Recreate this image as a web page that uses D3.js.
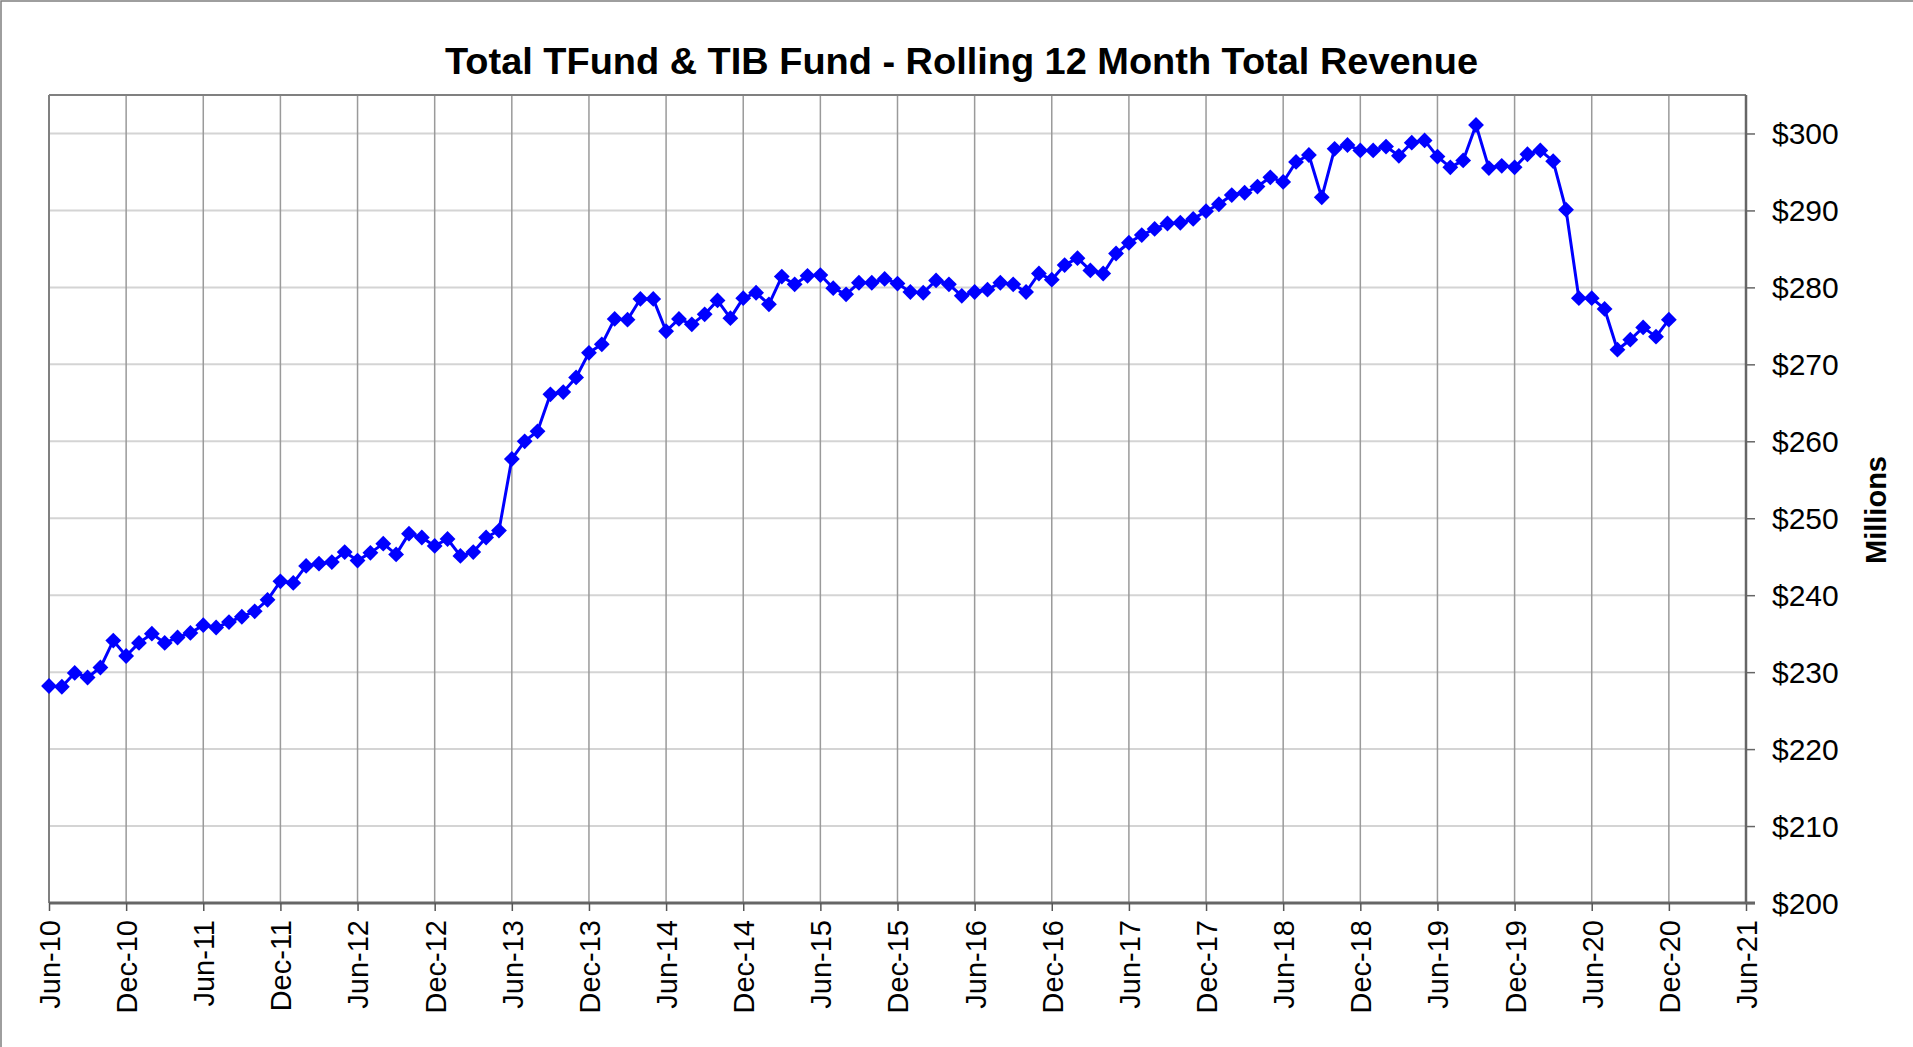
<!DOCTYPE html>
<html>
<head>
<meta charset="utf-8">
<script src="https://cdn.jsdelivr.net/npm/d3@7"></script>
<style>
  html, body { margin: 0; padding: 0; background: #fff; }
  svg { display: block; }
  text { font-family: "Liberation Sans", Arial, sans-serif; fill: #000; }
</style>
</head>
<body>
<svg id="chart" width="1913" height="1047"></svg>
<script>
// ---- Data ----
const chartTitle = "Total TFund & TIB Fund - Rolling 12 Month Total Revenue";
const yAxisTitle = "Millions";
const firstMonth = new Date(2010, 5, 1);   // Jun-10
const lastMonth  = new Date(2020, 11, 1);  // Dec-20
const months = d3.timeMonth.range(firstMonth, d3.timeMonth.offset(lastMonth, 1));

// Rolling 12 month total revenue, $ millions (Jun-10 .. Dec-20)
const revenue = [
  228.2, 228.1, 229.9, 229.3, 230.6, 234.1,
  232.1, 233.8, 235.0, 233.8, 234.5, 235.1,
  236.1, 235.8, 236.5, 237.2, 237.9, 239.4,
  241.8, 241.6, 243.8, 244.1, 244.3, 245.6,
  244.5, 245.5, 246.7, 245.3, 248.0, 247.5,
  246.4, 247.3, 245.1, 245.6, 247.5, 248.4,
  257.7, 260.0, 261.3, 266.1, 266.4, 268.3,
  271.5, 272.6, 275.9, 275.8, 278.5, 278.5,
  274.3, 275.9, 275.2, 276.5, 278.3, 276.0,
  278.6, 279.3, 277.8, 281.4, 280.4, 281.5,
  281.6, 279.9, 279.1, 280.6, 280.6, 281.1,
  280.5, 279.4, 279.3, 280.9, 280.4, 278.9,
  279.4, 279.7, 280.6, 280.4, 279.4, 281.8,
  281.0, 282.9, 283.8, 282.2, 281.8, 284.4,
  285.8, 286.8, 287.6, 288.3, 288.4, 288.9,
  289.9, 290.8, 292.0, 292.3, 293.1, 294.3,
  293.7, 296.3, 297.2, 291.7, 298.0, 298.5,
  297.8, 297.8, 298.3, 297.1, 298.8, 299.1,
  297.0, 295.6, 296.5, 301.1, 295.5, 295.8,
  295.6, 297.3, 297.8, 296.4, 290.1, 278.6,
  278.6, 277.2, 271.9, 273.2, 274.8, 273.6,
  275.8
];

const xTickLabels = ["Jun-10","Dec-10","Jun-11","Dec-11","Jun-12","Dec-12","Jun-13","Dec-13",
  "Jun-14","Dec-14","Jun-15","Dec-15","Jun-16","Dec-16","Jun-17","Dec-17","Jun-18","Dec-18",
  "Jun-19","Dec-19","Jun-20","Dec-20","Jun-21"];
const yTicks = [200, 210, 220, 230, 240, 250, 260, 270, 280, 290, 300];
const yDomain = [200, 305];

// ---- Layout ----
const plot = { left: 49, right: 1746, top: 95, bottom: 903 };
const svg = d3.select("#chart");

svg.append("rect").attr("width", 1913).attr("height", 1047).attr("fill", "#fff");
// outer chart border
svg.append("rect").attr("x", 1).attr("y", 1).attr("width", 1960).attr("height", 1100)
  .attr("fill", "none").attr("stroke", "#7f7f7f").attr("stroke-width", 1.5);

const nSlots = (xTickLabels.length - 1) * 6;
const x = d3.scaleLinear().domain([0, nSlots]).range([plot.left, plot.right]);
const y = d3.scaleLinear().domain(yDomain).range([plot.bottom, plot.top]);
const xTickIdx = xTickLabels.map((_, i) => i * 6);

// horizontal gridlines
svg.append("g").selectAll("line").data(yTicks.filter(v => v > yDomain[0]))
  .join("line")
  .attr("x1", plot.left).attr("x2", plot.right)
  .attr("y1", d => y(d)).attr("y2", d => y(d))
  .attr("stroke", "#d4d4d4").attr("stroke-width", 2);

// vertical gridlines
svg.append("g").selectAll("line").data(xTickIdx.slice(1, -1))
  .join("line")
  .attr("x1", d => x(d)).attr("x2", d => x(d))
  .attr("y1", plot.top).attr("y2", plot.bottom)
  .attr("stroke", "#9a9a9a").attr("stroke-width", 1.5);

// plot border (top, left)
svg.append("line").attr("x1", plot.left).attr("x2", plot.right).attr("y1", plot.top).attr("y2", plot.top)
  .attr("stroke", "#808080").attr("stroke-width", 2);
svg.append("line").attr("x1", plot.left).attr("x2", plot.left).attr("y1", plot.top).attr("y2", plot.bottom)
  .attr("stroke", "#808080").attr("stroke-width", 2);

// X axis
const xAxis = d3.axisBottom(x).tickValues(xTickIdx)
  .tickFormat((d, i) => xTickLabels[i]).tickSize(8).tickSizeOuter(0);
const gx = svg.append("g").attr("transform", `translate(0,${plot.bottom})`).call(xAxis);
gx.select(".domain").attr("stroke", "#666").attr("stroke-width", 3)
  .attr("d", `M${plot.left},0H${plot.right + 9}`);
gx.selectAll(".tick line").attr("stroke", "#555").attr("stroke-width", 1.5);
gx.selectAll(".tick text")
  .attr("transform", "rotate(-90)")
  .attr("text-anchor", "end")
  .attr("x", -17).attr("y", 0).attr("dy", "0.36em")
  .style("font-size", "29px").attr("fill", "#000");

// Y axis (right)
const yAxis = d3.axisRight(y).tickValues(yTicks).tickFormat(d => "$" + d)
  .tickSize(9).tickPadding(17).tickSizeOuter(0);
const gy = svg.append("g").attr("transform", `translate(${plot.right},0)`).call(yAxis);
gy.select(".domain").attr("stroke", "#666").attr("stroke-width", 2.5)
  .attr("d", `M0,${plot.top}V${plot.bottom}`);
gy.selectAll(".tick line").attr("stroke", "#666").attr("stroke-width", 1.5);
gy.selectAll(".tick text").style("font-size", "30px").attr("fill", "#000").attr("dy", "0.35em");

// series line
const line = d3.line().x((d, i) => x(i)).y(d => y(d));
svg.append("path").datum(revenue)
  .attr("d", line).attr("fill", "none")
  .attr("stroke", "#0000ff").attr("stroke-width", 3).attr("stroke-linejoin", "round");

// markers (diamonds)
const diamond = d3.symbol().type(d3.symbolSquare).size(125);
svg.append("g").selectAll("path").data(revenue)
  .join("path")
  .attr("d", diamond)
  .attr("transform", (d, i) => `translate(${x(i)},${y(d)}) rotate(45)`)
  .attr("fill", "#0000ff");

// title
svg.append("text")
  .attr("x", (445 + 1478) / 2).attr("y", 74)
  .attr("text-anchor", "middle")
  .attr("textLength", 1033).attr("lengthAdjust", "spacingAndGlyphs")
  .style("font-size", "37px").style("font-weight", "bold")
  .text(chartTitle);

// y axis title
svg.append("text")
  .attr("transform", "translate(1876,510) rotate(-90)")
  .attr("text-anchor", "middle").attr("dy", "0.35em")
  .style("font-size", "29px").style("font-weight", "bold")
  .text(yAxisTitle);
</script>
</body>
</html>
